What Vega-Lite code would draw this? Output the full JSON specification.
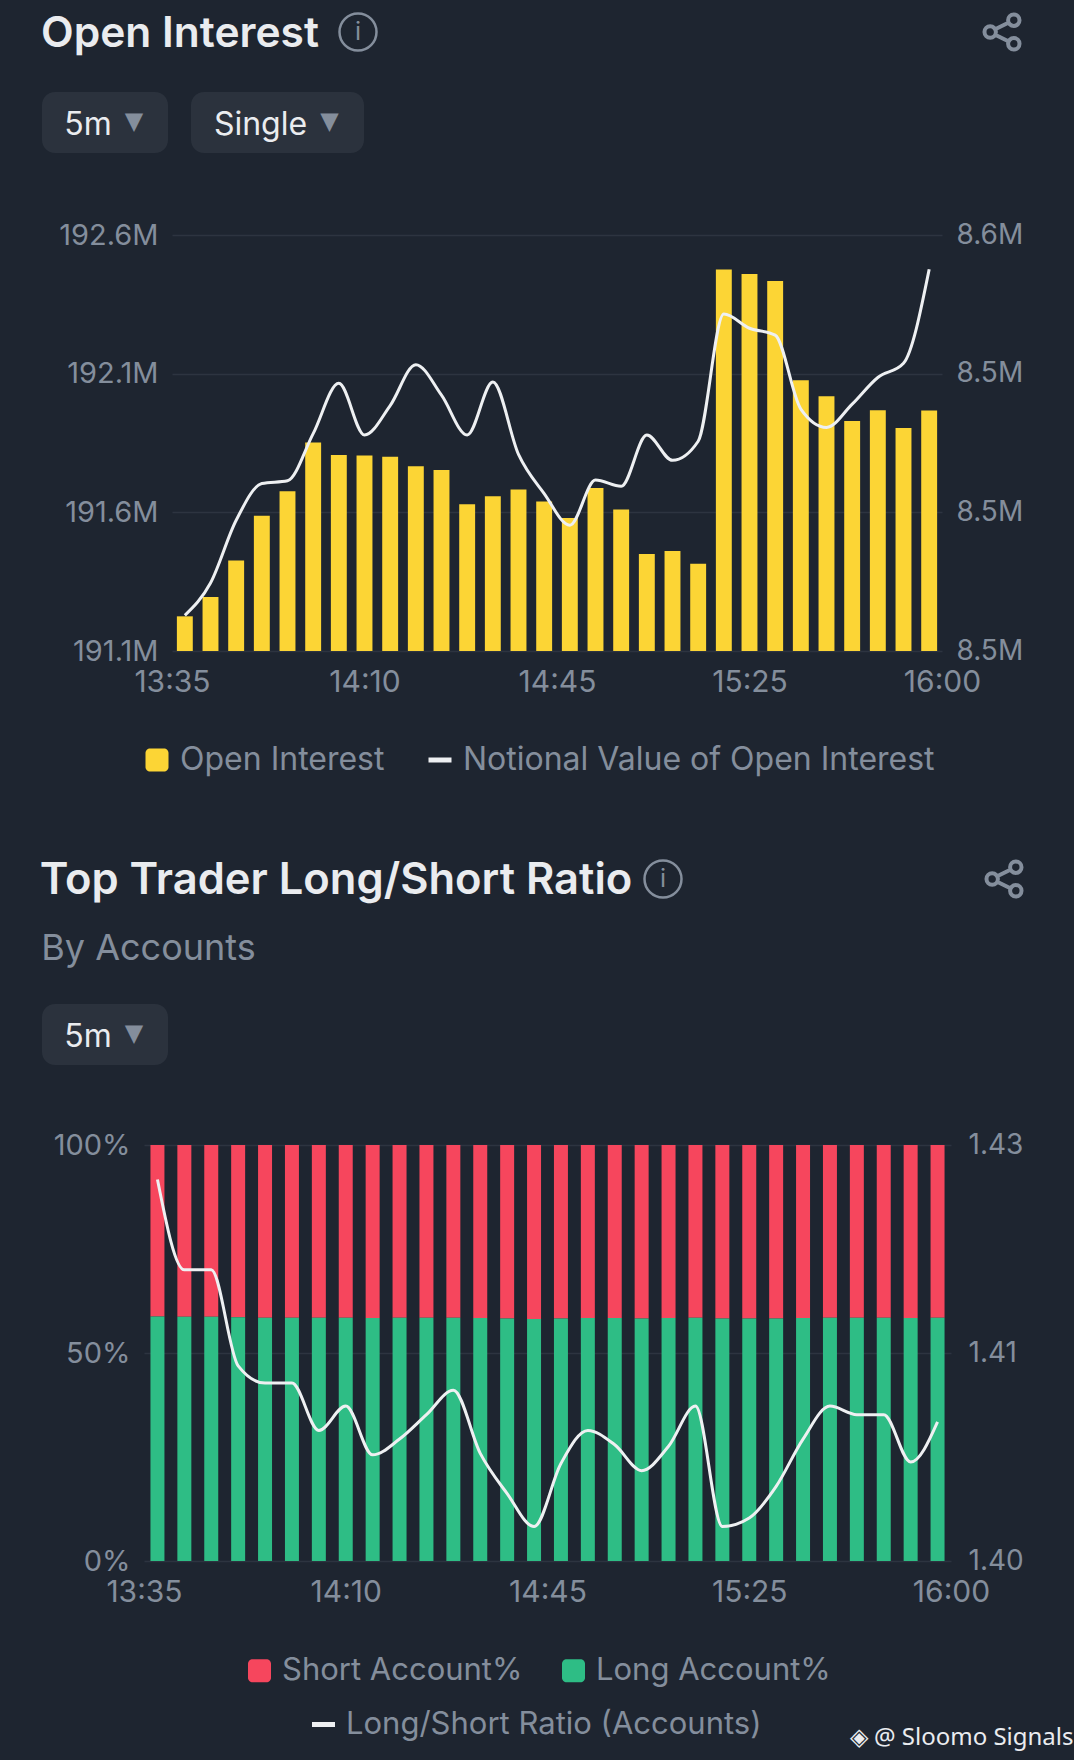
{
  "$schema": "https://vega.github.io/schema/vega-lite/v6.json",
  "background": "#1e2530",
  "padding": {"left": 39, "top": 0, "right": 0, "bottom": 28},
  "title": {
    "text": "◈ @ Sloomo Signals",
    "orient": "bottom",
    "anchor": "end",
    "frame": "bounds",
    "offset": -14,
    "dx": 44,
    "color": "#eaecef",
    "font": "Noto Sans",
    "fontSize": 24,
    "fontWeight": "normal"
  },
  "datasets": {
    "oi": [
      {"t": "13:35", "oi": 191.225, "nv": 8.4703},
      {"t": "13:40", "oi": 191.295, "nv": 8.4796},
      {"t": "13:45", "oi": 191.426, "nv": 8.4977},
      {"t": "13:50", "oi": 191.588, "nv": 8.5083},
      {"t": "13:55", "oi": 191.676, "nv": 8.5091},
      {"t": "14:00", "oi": 191.852, "nv": 8.5227},
      {"t": "14:05", "oi": 191.807, "nv": 8.5372},
      {"t": "14:10", "oi": 191.805, "nv": 8.5223},
      {"t": "14:15", "oi": 191.8, "nv": 8.5308},
      {"t": "14:20", "oi": 191.766, "nv": 8.5426},
      {"t": "14:25", "oi": 191.753, "nv": 8.5338},
      {"t": "14:30", "oi": 191.629, "nv": 8.5223},
      {"t": "14:35", "oi": 191.658, "nv": 8.5376},
      {"t": "14:40", "oi": 191.682, "nv": 8.5167},
      {"t": "14:45", "oi": 191.639, "nv": 8.5054},
      {"t": "14:50", "oi": 191.58, "nv": 8.4963},
      {"t": "14:55", "oi": 191.688, "nv": 8.5093},
      {"t": "15:00", "oi": 191.61, "nv": 8.5075},
      {"t": "15:05", "oi": 191.45, "nv": 8.5223},
      {"t": "15:10", "oi": 191.461, "nv": 8.515},
      {"t": "15:15", "oi": 191.415, "nv": 8.5205},
      {"t": "15:20", "oi": 192.476, "nv": 8.5572},
      {"t": "15:25", "oi": 192.459, "nv": 8.5531},
      {"t": "15:30", "oi": 192.434, "nv": 8.5511},
      {"t": "15:35", "oi": 192.076, "nv": 8.5298},
      {"t": "15:40", "oi": 192.019, "nv": 8.5245},
      {"t": "15:45", "oi": 191.929, "nv": 8.5312},
      {"t": "15:50", "oi": 191.968, "nv": 8.5389},
      {"t": "15:55", "oi": 191.904, "nv": 8.543},
      {"t": "16:00", "oi": 191.967, "nv": 8.5701}
    ],
    "ls": [
      {"t": "13:35", "long": 58.8, "short": 41.2, "ratio": 1.4266},
      {"t": "13:40", "long": 58.7, "short": 41.3, "ratio": 1.4203},
      {"t": "13:45", "long": 58.7, "short": 41.3, "ratio": 1.4203},
      {"t": "13:50", "long": 58.6, "short": 41.4, "ratio": 1.4136},
      {"t": "13:55", "long": 58.5, "short": 41.5, "ratio": 1.4124},
      {"t": "14:00", "long": 58.5, "short": 41.5, "ratio": 1.4124},
      {"t": "14:05", "long": 58.5, "short": 41.5, "ratio": 1.4091},
      {"t": "14:10", "long": 58.5, "short": 41.5, "ratio": 1.4108},
      {"t": "14:15", "long": 58.4, "short": 41.6, "ratio": 1.4074},
      {"t": "14:20", "long": 58.5, "short": 41.5, "ratio": 1.4085},
      {"t": "14:25", "long": 58.5, "short": 41.5, "ratio": 1.4102},
      {"t": "14:30", "long": 58.5, "short": 41.5, "ratio": 1.4119},
      {"t": "14:35", "long": 58.4, "short": 41.6, "ratio": 1.4075},
      {"t": "14:40", "long": 58.3, "short": 41.7, "ratio": 1.4047},
      {"t": "14:45", "long": 58.2, "short": 41.8, "ratio": 1.4024},
      {"t": "14:50", "long": 58.3, "short": 41.7, "ratio": 1.4068},
      {"t": "14:55", "long": 58.4, "short": 41.6, "ratio": 1.4091},
      {"t": "15:00", "long": 58.4, "short": 41.6, "ratio": 1.4081},
      {"t": "15:05", "long": 58.3, "short": 41.7, "ratio": 1.4063},
      {"t": "15:10", "long": 58.4, "short": 41.6, "ratio": 1.408},
      {"t": "15:15", "long": 58.5, "short": 41.5, "ratio": 1.4108},
      {"t": "15:20", "long": 58.3, "short": 41.7, "ratio": 1.4024},
      {"t": "15:25", "long": 58.3, "short": 41.7, "ratio": 1.403},
      {"t": "15:30", "long": 58.3, "short": 41.7, "ratio": 1.4052},
      {"t": "15:35", "long": 58.4, "short": 41.6, "ratio": 1.4085},
      {"t": "15:40", "long": 58.5, "short": 41.5, "ratio": 1.4108},
      {"t": "15:45", "long": 58.5, "short": 41.5, "ratio": 1.4102},
      {"t": "15:50", "long": 58.5, "short": 41.5, "ratio": 1.4102},
      {"t": "15:55", "long": 58.4, "short": 41.6, "ratio": 1.4069},
      {"t": "16:00", "long": 58.5, "short": 41.5, "ratio": 1.4097}
    ],
    "ticks": [
      {"tick": "13:35"},
      {"tick": "14:10"},
      {"tick": "14:45"},
      {"tick": "15:25"},
      {"tick": "16:00"}
    ]
  },
  "spacing": 0,
  "align": "none",
  "resolve": {"scale": {"color": "independent", "stroke": "independent"}, "legend": {"color": "independent", "stroke": "independent"}},
  "vconcat": [
    {
      "spacing": 0,
      "hconcat": [
        {
          "width": 276,
          "height": 64,
          "data": {"values": [{"label": "Open Interest"}]},
          "mark": {"type": "text", "font": "Inter", "fontSize": 42.5, "fontWeight": 600, "color": "#eaecef", "dy": 2},
          "encoding": {"text": {"field": "label"}}
        },
        {
          "width": 78,
          "height": 64,
          "data": {"values": [{"label": "i"}]},
          "layer": [
            {"mark": {"type": "point", "shape": "circle", "size": 1369, "filled": false, "stroke": "#848e9c", "strokeWidth": 2.5, "opacity": 1}, "encoding": {}},
            {"mark": {"type": "text", "font": "Inter", "fontSize": 25, "color": "#848e9c"}, "encoding": {"text": {"field": "label"}}}
          ]
        },
        {
          "width": 579,
          "height": 64,
          "data": {"values": [{}]},
          "mark": {"type": "rect", "opacity": 0},
          "encoding": {}
        },
        {
          "width": 40,
          "height": 64,
          "data": {"values": [{"label": "share"}]},
          "mark": {
            "type": "point",
            "shape": "M-.32,0A.3,.3 0 1,1 -.92,0A.3,.3 0 1,1 -.32,0ZM.92,-.62A.3,.3 0 1,1 .32,-.62A.3,.3 0 1,1 .92,-.62ZM.92,.62A.3,.3 0 1,1 .32,.62A.3,.3 0 1,1 .92,.62ZM-.36,-.14L.36,-.5M-.36,.14L.36,.5",
            "size": 1450,
            "filled": false,
            "stroke": "#848e9c",
            "strokeWidth": 4,
            "opacity": 1
          },
          "encoding": {}
        }
      ]
    },
    {"width": 1, "height": 28, "data": {"values": [{}]}, "mark": {"type": "rect", "opacity": 0}, "encoding": {}},
    {
      "spacing": 23,
      "hconcat": [
        {
          "width": 126,
          "height": 61,
          "data": {"values": [{"label": "5m", "caret": "▼"}]},
          "layer": [
            {"mark": {"type": "rect", "color": "#2b323d", "cornerRadius": 13}, "encoding": {}},
            {"mark": {"type": "text", "font": "Inter", "fontSize": 32, "color": "#eaecef", "dx": -17, "dy": 2}, "encoding": {"text": {"field": "label"}}},
            {"mark": {"type": "text", "font": "DejaVu Sans", "fontSize": 24, "color": "#848e9c", "dx": 29, "dy": -1}, "encoding": {"text": {"field": "caret"}}}
          ]
        },
        {
          "width": 173,
          "height": 61,
          "data": {"values": [{"label": "Single", "caret": "▼"}]},
          "layer": [
            {"mark": {"type": "rect", "color": "#2b323d", "cornerRadius": 13}, "encoding": {}},
            {"mark": {"type": "text", "font": "Inter", "fontSize": 32, "color": "#eaecef", "dx": -17, "dy": 2}, "encoding": {"text": {"field": "label"}}},
            {"mark": {"type": "text", "font": "DejaVu Sans", "fontSize": 24, "color": "#848e9c", "dx": 52, "dy": -1}, "encoding": {"text": {"field": "caret"}}}
          ]
        }
      ]
    },
    {"width": 1, "height": 68, "data": {"values": [{}]}, "mark": {"type": "rect", "opacity": 0}, "encoding": {}},
    {
      "spacing": 0,
      "hconcat": [
        {"width": 16, "height": 1, "data": {"values": [{}]}, "mark": {"type": "rect", "opacity": 0}, "encoding": {}},
        {
          "width": 770,
          "height": 416,
          "layer": [
            {
              "data": {"name": "oi"},
              "mark": {"type": "bar"},
              "encoding": {
                "x": {"field": "t", "type": "nominal", "sort": null, "axis": null, "scale": {"type": "band", "paddingInner": 0.38, "paddingOuter": 0.19}},
                "y": {
                  "field": "oi",
                  "type": "quantitative",
                  "scale": {"domain": [191.1, 192.6], "zero": false, "nice": false},
                  "axis": {
                    "orient": "left",
                    "title": null,
                    "values": [191.1, 191.6, 192.1, 192.6],
                    "labelExpr": "format(datum.value, '.1f') + 'M'",
                    "grid": true,
                    "gridColor": "#2d3440",
                    "gridWidth": 1.5,
                    "labelPadding": 14,
                    "labelFontSize": 29
                  }
                },
                "y2": {"datum": 191.1},
                "color": {
                  "datum": "Open Interest",
                  "type": "nominal",
                  "scale": {"range": ["#fcd535"]},
                  "legend": {
                    "orient": "none",
                    "legendX": 99,
                    "legendY": 509,
                    "title": null,
                    "symbolType": "M-.6,-1H.6A.4,.4 0 0 1 1,-.6V.6A.4,.4 0 0 1 .6,1H-.6A.4,.4 0 0 1 -1,.6V-.6A.4,.4 0 0 1 -.6,-1Z",
                    "symbolSize": 529
                  }
                }
              }
            },
            {
              "data": {"name": "oi"},
              "mark": {"type": "line", "interpolate": "monotone", "strokeWidth": 3},
              "encoding": {
                "x": {"field": "t", "type": "nominal", "sort": null, "axis": null, "scale": {"type": "point", "padding": 0.5}},
                "y": {
                  "field": "nv",
                  "type": "quantitative",
                  "scale": {"domain": [8.46, 8.58], "zero": false, "nice": false},
                  "axis": {
                    "orient": "right",
                    "title": null,
                    "values": [8.46, 8.5, 8.54, 8.58],
                    "labelExpr": "format(datum.value, '.1f') + 'M'",
                    "grid": false,
                    "labelPadding": 14,
                    "labelFontSize": 28
                  }
                },
                "stroke": {
                  "datum": "Notional Value of Open Interest",
                  "type": "nominal",
                  "scale": {"range": ["#eef0f2"]},
                  "legend": {
                    "orient": "none",
                    "legendX": 382,
                    "legendY": 509,
                    "title": null,
                    "symbolType": "stroke",
                    "symbolSize": 529,
                    "symbolStrokeWidth": 5
                  }
                }
              }
            },
            {
              "data": {"name": "ticks"},
              "mark": {"type": "point", "opacity": 0},
              "encoding": {
                "x": {
                  "field": "tick",
                  "type": "nominal",
                  "sort": null,
                  "scale": {"type": "point", "padding": 0},
                  "axis": {"title": null, "labelAngle": 0, "labelPadding": 16, "labelOverlap": false, "labelFontSize": 30}
                }
              }
            }
          ],
          "resolve": {"scale": {"x": "independent", "y": "independent"}}
        }
      ]
    },
    {"width": 1, "height": 71, "data": {"values": [{}]}, "mark": {"type": "rect", "opacity": 0}, "encoding": {}},
    {
      "spacing": 0,
      "hconcat": [
        {
          "width": 588,
          "height": 64,
          "data": {"values": [{"label": "Top Trader Long/Short Ratio"}]},
          "mark": {"type": "text", "font": "Inter", "fontSize": 43.5, "fontWeight": 600, "color": "#eaecef", "dy": 2},
          "encoding": {"text": {"field": "label"}}
        },
        {
          "width": 60,
          "height": 64,
          "data": {"values": [{"label": "i"}]},
          "layer": [
            {"mark": {"type": "point", "shape": "circle", "size": 1369, "filled": false, "stroke": "#848e9c", "strokeWidth": 2.5, "opacity": 1}, "encoding": {}},
            {"mark": {"type": "text", "font": "Inter", "fontSize": 25, "color": "#848e9c"}, "encoding": {"text": {"field": "label"}}}
          ]
        },
        {
          "width": 285,
          "height": 64,
          "data": {"values": [{}]},
          "mark": {"type": "rect", "opacity": 0},
          "encoding": {}
        },
        {
          "width": 40,
          "height": 64,
          "data": {"values": [{"label": "share"}]},
          "mark": {
            "type": "point",
            "shape": "M-.32,0A.3,.3 0 1,1 -.92,0A.3,.3 0 1,1 -.32,0ZM.92,-.62A.3,.3 0 1,1 .32,-.62A.3,.3 0 1,1 .92,-.62ZM.92,.62A.3,.3 0 1,1 .32,.62A.3,.3 0 1,1 .92,.62ZM-.36,-.14L.36,-.5M-.36,.14L.36,.5",
            "size": 1450,
            "filled": false,
            "stroke": "#848e9c",
            "strokeWidth": 4,
            "opacity": 1
          },
          "encoding": {}
        }
      ]
    },
    {"width": 1, "height": 18, "data": {"values": [{}]}, "mark": {"type": "rect", "opacity": 0}, "encoding": {}},
    {
      "width": 213,
      "height": 40,
      "data": {"values": [{"label": "By Accounts"}]},
      "mark": {"type": "text", "font": "Inter", "fontSize": 36, "color": "#848e9c"},
      "encoding": {"text": {"field": "label"}}
    },
    {"width": 1, "height": 35, "data": {"values": [{}]}, "mark": {"type": "rect", "opacity": 0}, "encoding": {}},
    {
      "width": 126,
      "height": 61,
      "data": {"values": [{"label": "5m", "caret": "▼"}]},
      "layer": [
        {"mark": {"type": "rect", "color": "#2b323d", "cornerRadius": 13}, "encoding": {}},
        {"mark": {"type": "text", "font": "Inter", "fontSize": 32, "color": "#eaecef", "dx": -17, "dy": 2}, "encoding": {"text": {"field": "label"}}},
        {"mark": {"type": "text", "font": "DejaVu Sans", "fontSize": 24, "color": "#848e9c", "dx": 29, "dy": -1}, "encoding": {"text": {"field": "caret"}}}
      ]
    },
    {"width": 1, "height": 66, "data": {"values": [{}]}, "mark": {"type": "rect", "opacity": 0}, "encoding": {}},
    {
      "spacing": 0,
      "hconcat": [
        {"width": 11, "height": 1, "data": {"values": [{}]}, "mark": {"type": "rect", "opacity": 0}, "encoding": {}},
        {
          "width": 807,
          "height": 416,
          "layer": [
            {
              "data": {"name": "ls"},
              "transform": [{"fold": ["short", "long"], "as": ["side", "share"]}],
              "mark": {"type": "bar"},
              "encoding": {
                "x": {"field": "t", "type": "nominal", "sort": null, "axis": null, "scale": {"type": "band", "paddingInner": 0.48, "paddingOuter": 0.24}},
                "y": {
                  "field": "share",
                  "type": "quantitative",
                  "stack": "zero",
                  "scale": {"domain": [0, 100], "nice": false},
                  "axis": {
                    "orient": "left",
                    "title": null,
                    "values": [0, 50, 100],
                    "labelExpr": "datum.label + '%'",
                    "grid": true,
                    "gridColor": "#2d3440",
                    "gridWidth": 1.5,
                    "labelPadding": 14,
                    "labelFontSize": 29
                  }
                },
                "color": {
                  "field": "side",
                  "type": "nominal",
                  "scale": {"domain": ["short", "long"], "range": ["#f6465d", "#2ebd85"]},
                  "legend": {
                    "orient": "none",
                    "legendX": 202,
                    "legendY": 510,
                    "direction": "horizontal",
                    "title": null,
                    "columnPadding": 35,
                    "labelFontSize": 31,
                    "labelExpr": "datum.label == 'short' ? 'Short Account%' : 'Long Account%'",
                    "symbolType": "M-.6,-1H.6A.4,.4 0 0 1 1,-.6V.6A.4,.4 0 0 1 .6,1H-.6A.4,.4 0 0 1 -1,.6V-.6A.4,.4 0 0 1 -.6,-1Z",
                    "symbolSize": 529
                  }
                },
                "order": {"field": "side", "sort": "ascending"}
              }
            },
            {
              "data": {"name": "ls"},
              "mark": {"type": "line", "interpolate": "monotone", "strokeWidth": 3},
              "encoding": {
                "x": {"field": "t", "type": "nominal", "sort": null, "axis": null, "scale": {"type": "point", "padding": 0.5}},
                "y": {
                  "field": "ratio",
                  "type": "quantitative",
                  "scale": {"domain": [1.4, 1.429], "zero": false, "nice": false},
                  "axis": {
                    "orient": "right",
                    "title": null,
                    "values": [1.4, 1.4145, 1.429],
                    "format": ".2f",
                    "grid": false,
                    "labelPadding": 17,
                    "labelFontSize": 28
                  }
                },
                "stroke": {
                  "datum": "Long/Short Ratio (Accounts)",
                  "type": "nominal",
                  "scale": {"range": ["#eef0f2"]},
                  "legend": {
                    "orient": "none",
                    "legendX": 266,
                    "legendY": 564,
                    "title": null,
                    "labelFontSize": 31,
                    "symbolType": "stroke",
                    "symbolSize": 529,
                    "symbolStrokeWidth": 5
                  }
                }
              }
            },
            {
              "data": {"name": "ticks"},
              "mark": {"type": "point", "opacity": 0},
              "encoding": {
                "x": {
                  "field": "tick",
                  "type": "nominal",
                  "sort": null,
                  "scale": {"type": "point", "padding": 0},
                  "axis": {"title": null, "labelAngle": 0, "labelPadding": 16, "labelOverlap": false, "labelFontSize": 30}
                }
              }
            }
          ],
          "resolve": {"scale": {"x": "independent", "y": "independent"}}
        }
      ]
    }
  ],
  "config": {
    "view": {"stroke": null},
    "axis": {
      "domain": false,
      "ticks": false,
      "labelColor": "#848e9c",
      "labelFont": "Inter",
      "labelFontSize": 27,
      "labelFontWeight": "normal"
    },
    "legend": {
      "labelColor": "#848e9c",
      "labelFont": "Inter",
      "labelFontSize": 32,
      "labelOffset": 7,
      "labelLimit": 600,
      "symbolStrokeWidth": 0
    }
  }
}
